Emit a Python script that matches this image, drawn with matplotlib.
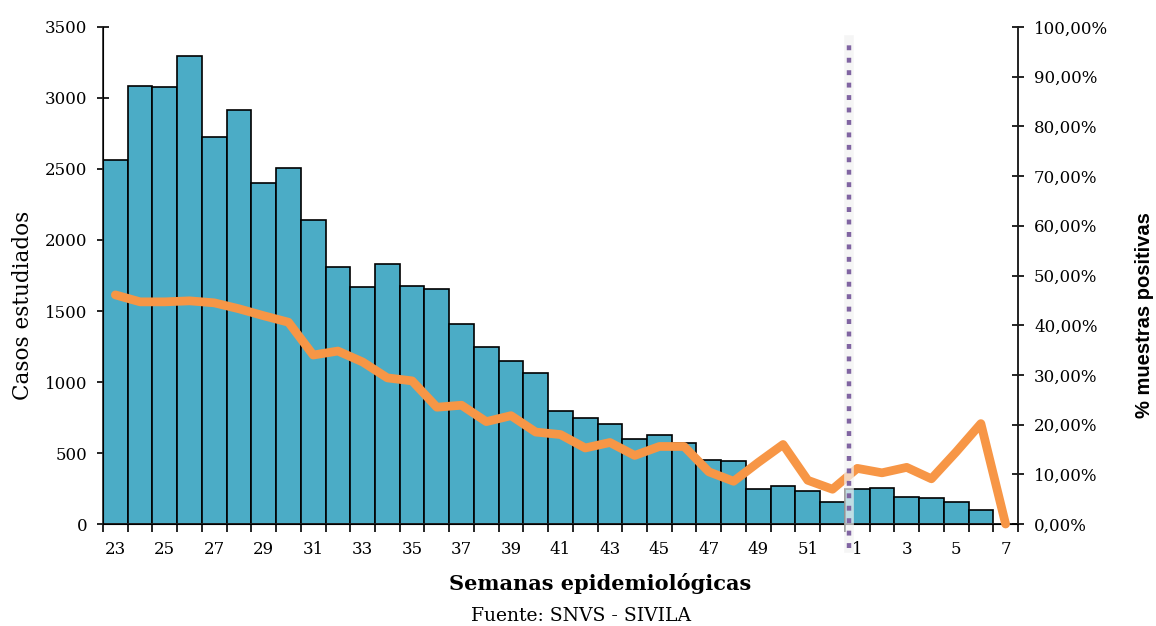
import matplotlib
matplotlib.use("Agg")
import matplotlib.pyplot as plt
import numpy as np
from matplotlib.ticker import FuncFormatter, FixedLocator

weeks = [23, 24, 25, 26, 27, 28, 29, 30, 31, 32, 33, 34, 35, 36, 37, 38, 39, 40,
         41, 42, 43, 44, 45, 46, 47, 48, 49, 50, 51, 52, 1, 2, 3, 4, 5, 6, 7]
casos = [2560, 3085, 3078, 3295, 2725, 2912, 2403, 2506, 2142, 1811, 1666, 1830,
         1677, 1656, 1408, 1248, 1147, 1065, 795, 744, 702, 598, 629, 568, 453,
         441, 246, 265, 234, 153, 244, 256, 192, 183, 155, 99, 0]
positivos = [46.1, 44.7, 44.7, 44.9, 44.5, 43.3, 41.9, 40.6, 34.0, 34.8, 32.6,
             29.4, 28.8, 23.5, 23.9, 20.6, 21.8, 18.5, 18.0, 15.3, 16.4, 13.8,
             15.6, 15.6, 10.5, 8.6, 12.4, 16.0, 8.8, 7.0, 11.2, 10.3, 11.4, 9.1,
             14.5, 20.2, 0.0]
label_weeks = [23, 25, 27, 29, 31, 33, 35, 37, 39, 41, 43, 45, 47, 49, 51, 1, 3, 5, 7]
year_change_pos = 29.65

serif = "DejaVu Serif"
tick_fs = 12
fig = plt.figure(figsize=(11.56, 6.26), dpi=100)
ax = fig.add_axes([0.0891, 0.1629, 0.7915, 0.794])
x = np.arange(len(weeks))
ax.bar(x, casos, width=1.0, color="#4BACC6", edgecolor="black", linewidth=1.2, zorder=2)
ax.set_xlim(-0.5, len(weeks) - 0.5)
ax.set_ylim(0, 3500)
ax.set_yticks(np.arange(0, 3501, 500))
ax.tick_params(axis="y", direction="inout", length=9, width=1.2, labelsize=tick_fs, pad=7)
for t in ax.get_yticklabels():
    t.set_fontfamily(serif)

lab_pos = [weeks.index(w) if w >= 23 else 30 + weeks[30:].index(w) for w in label_weeks]
ax.set_xticks(lab_pos)
ax.set_xticklabels([str(w) for w in label_weeks], fontfamily=serif, fontsize=tick_fs)
ax.tick_params(axis="x", which="major", length=0, pad=12)
ax.xaxis.set_minor_locator(FixedLocator(np.arange(-0.5, len(weeks), 1.0)))
ax.tick_params(axis="x", which="minor", direction="out", length=6, width=1.2)

ax.spines["top"].set_visible(False)
for s in ["left", "bottom", "right"]:
    ax.spines[s].set_linewidth(1.2)
    ax.spines[s].set_color("#222222")

ax2 = ax.twinx()
ax2.set_ylim(0, 100)
ax2.plot(x, positivos, color="#F79646", linewidth=6.3, solid_joinstyle="round",
         solid_capstyle="round", zorder=3, clip_on=False)
ax2.set_yticks(np.arange(0, 101, 10))
ax2.yaxis.set_major_formatter(FuncFormatter(lambda v, p: f"{v:.2f}".replace(".", ",") + "%"))
ax2.tick_params(axis="y", direction="inout", length=9, width=1.2, labelsize=tick_fs, pad=7)
for t in ax2.get_yticklabels():
    t.set_fontfamily(serif)
ax2.spines["top"].set_visible(False)
ax2.spines["right"].set_linewidth(1.2)
ax2.spines["right"].set_color("#222222")

# year-change marker
ax2.axvline(year_change_pos, ymin=-0.048, ymax=0.974, color="#f2f2f2", alpha=0.7,
            linewidth=7, clip_on=False, zorder=4)
ax2.axvline(year_change_pos, ymin=-0.048, ymax=0.974, color="#8064A2", linewidth=3.2,
            linestyle=(0, (1.1, 1.7)), clip_on=False, zorder=5)

# axis titles and source
fig.text(23 / 1156, 1 - 305 / 626, "Casos estudiados", fontfamily=serif, fontsize=15.5,
         rotation=90, ha="center", va="center")
fig.text(1145 / 1156, 1 - 315 / 626, "% muestras positivas", fontfamily="Liberation Sans",
         fontsize=14.5, fontweight="bold", rotation=90, ha="center", va="center")
fig.text(600 / 1156, 1 - 583 / 626, "Semanas epidemiológicas", fontfamily=serif,
         fontsize=15, fontweight="bold", ha="center", va="center")
fig.text(581 / 1156, 1 - 616 / 626, "Fuente: SNVS - SIVILA", fontfamily=serif,
         fontsize=13.5, ha="center", va="center")

fig.savefig("out.png", dpi=100)
